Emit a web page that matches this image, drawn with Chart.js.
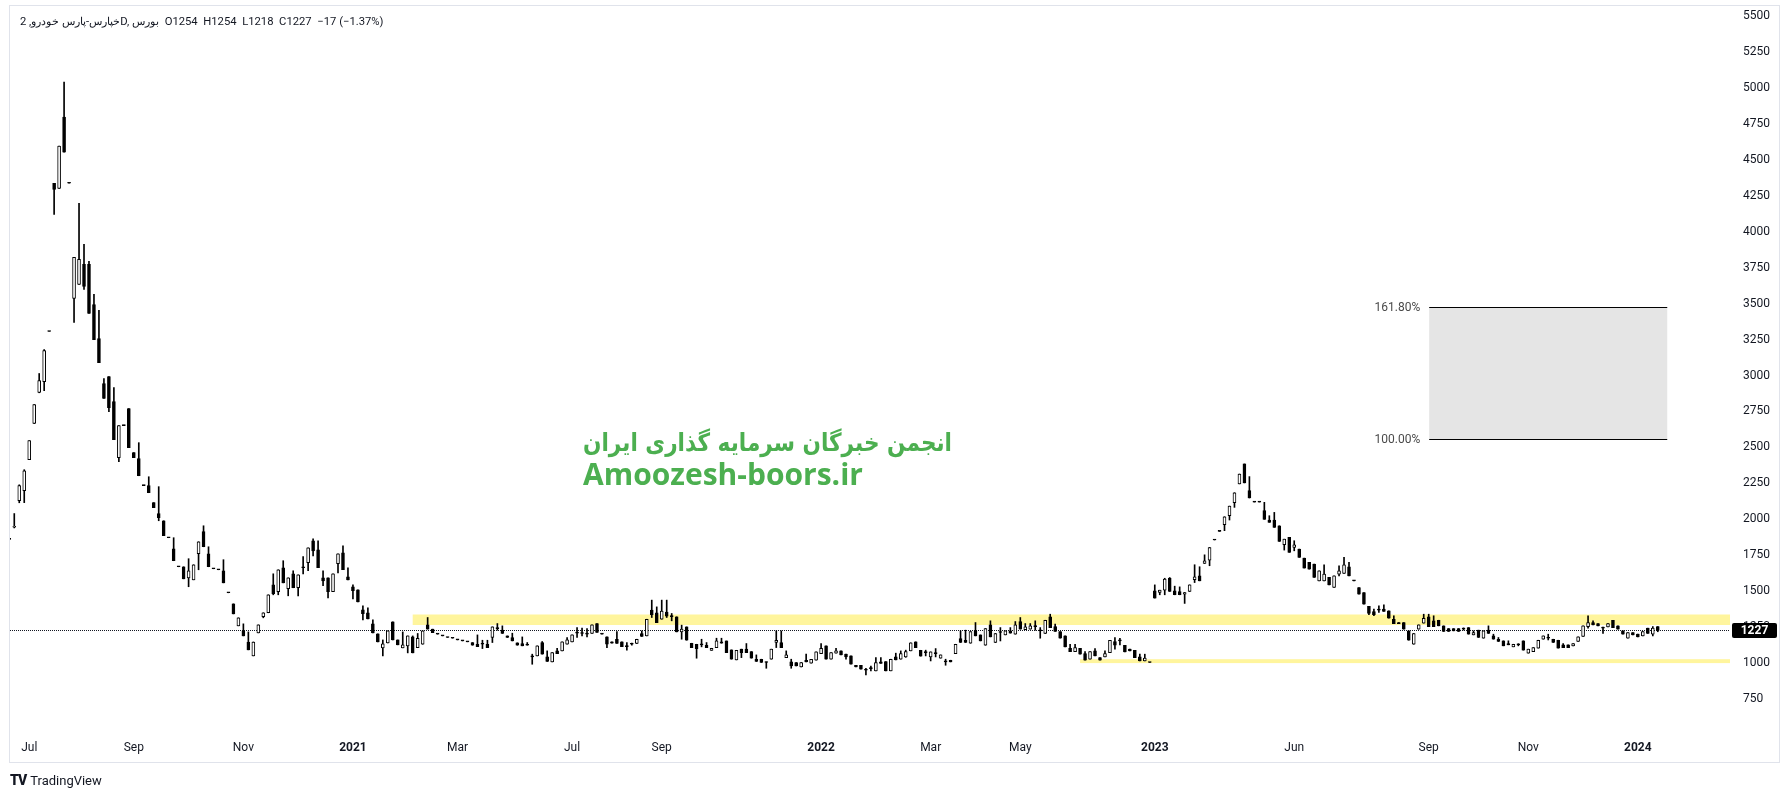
<!DOCTYPE html>
<html>
<head>
<meta charset="utf-8">
<script src="https://cdn.jsdelivr.net/npm/chart.js@4.4.1/dist/chart.umd.min.js"></script>
<style>
html, body { margin: 0; padding: 0; background: #ffffff; }
#wrap { position: relative; width: 1790px; height: 797px; }
#wrap canvas { position: absolute; left: 0; top: 0; }
.legend { position: absolute; left: 20px; top: 15px; font: 11.25px Roboto, sans-serif; color: #131722; white-space: pre; direction: ltr; }
.brand { position: absolute; left: 10px; top: 772px; font: 13px Roboto, sans-serif; color: #131722; white-space: nowrap; }
.brand b { font-weight: 900; font-size: 14px; letter-spacing: -1px; margin-right: 4px; }
</style>
</head>
<body>
<div id="wrap">
  <canvas id="chart" width="1790" height="797"></canvas>
  <div class="legend" dir="ltr">خپارس-پارس خودرو, 2D, بورس  O1254  H1254  L1218  C1227  −17 (−1.37%)</div>
  <div class="brand"><b>TV</b>TradingView</div>
</div>
<script>
// ===============================
// Candles (2D bars)
// ===============================

const opens = [
1860,1945,2129,2199,2415,2666,2882,2958,3306,4337,
4302,4797,4337,3536,3634,3773,3773,3494,3257,2944,
2993,2819,2429,2652,2770,2464,2422,2234,2234,2116,
2039,1990,1872,1795,1670,1670,1593,1579,1761,1914,
1760,1656,1649,1642,1489,1412,1259,1224,1147,1050,
1210,1322,1350,1545,1496,1663,1517,1621,1524,1663,
1698,1851,1788,1593,1593,1496,1691,1767,1600,1531,
1510,1370,1350,1273,1203,1106,1140,1287,1161,1106,
1120,1182,1108,1131,1266,1236,1201,1189,1178,1173,
1161,1154,1148,1143,1131,1131,1131,1178,1240,1229,
1189,1178,1141,1136,1124,1043,1050,1143,1043,1008,
1085,1085,1131,1148,1208,1206,1201,1206,1275,1201,
1182,1148,1166,1148,1115,1131,1136,1206,1189,1368,
1349,1305,1354,1331,1322,1217,1252,1138,1131,1127,
1124,1089,1108,1148,1154,1092,1022,1097,1097,1080,
1027,1027,1008,1027,1143,1143,1038,1008,1004,973,
1020,999,1020,1066,1120,1027,1069,1085,1062,1050,
985,985,950,962,946,1008,1011,946,1043,1027,
1043,1085,1148,1089,1073,1043,1066,1034,1008,1020,
1066,1171,1159,1138,1224,1196,1124,1266,1143,1213,
1196,1224,1201,1289,1233,1236,1254,1224,1206,1322,
1254,1220,1189,1103,1080,1103,1066,1027,1085,1038,
1043,1073,1150,1154,1124,1097,1089,1043,1015,1004,
1503,1491,1507,1589,1503,1498,1480,1498,1580,1607,
1693,1716,1856,1916,1962,2025,2116,2246,2385,2199,
2120,2120,2060,1995,1995,1955,1823,1874,1804,1793,
1730,1700,1688,1572,1572,1596,1526,1619,1623,1670,
1572,1526,1491,1394,1359,1368,1375,1363,1305,1282,
1282,1224,1131,1236,1278,1322,1294,1298,1259,1240,
1240,1240,1236,1247,1196,1229,1173,1229,1189,1166,
1155,1136,1113,1127,1155,1069,1080,1104,1166,1173,
1166,1159,1127,1127,1120,1150,1185,1254,1282,1275,
1243,1252,1298,1259,1224,1173,1213,1201,1189,1243,
1201,1254
];

const highs = [
1860,2040,2240,2345,2547,2798,3014,3180,3306,4337,
4595,5040,4337,3822,4198,3912,3794,3564,3453,2979,
2993,2916,2652,2652,2770,2464,2533,2234,2296,2116,
2227,1990,1872,1872,1670,1670,1726,1684,1844,1955,
1809,1656,1649,1719,1489,1412,1315,1273,1217,1147,
1266,1350,1475,1621,1649,1712,1593,1642,1614,1740,
1802,1865,1851,1642,1593,1621,1760,1816,1663,1545,
1510,1398,1384,1301,1203,1161,1224,1287,1161,1217,
1189,1189,1206,1224,1317,1236,1201,1189,1178,1173,
1161,1154,1148,1143,1196,1159,1159,1252,1275,1259,
1189,1208,1141,1182,1143,1062,1120,1150,1085,1073,
1103,1148,1178,1196,1247,1243,1240,1266,1275,1201,
1182,1148,1220,1148,1143,1140,1166,1224,1305,1438,
1391,1438,1438,1345,1322,1264,1252,1138,1131,1166,
1143,1103,1173,1173,1154,1092,1089,1097,1136,1080,
1057,1027,1008,1097,1224,1224,1085,1027,1004,1004,
1062,1027,1078,1136,1120,1073,1103,1085,1062,1050,
985,985,964,980,1038,1038,1011,1027,1069,1085,
1090,1141,1148,1089,1090,1078,1101,1057,1027,1020,
1131,1224,1229,1219,1282,1196,1240,1294,1206,1247,
1224,1247,1289,1317,1275,1275,1294,1247,1298,1340,
1271,1220,1189,1131,1131,1103,1080,1080,1101,1038,
1085,1159,1178,1173,1124,1097,1089,1062,1062,1004,
1544,1507,1590,1595,1535,1530,1491,1544,1684,1670,
1753,1804,1856,1916,2018,2092,2185,2315,2385,2297,
2120,2120,2118,2025,2048,1955,1862,1874,1851,1793,
1730,1700,1688,1642,1684,1596,1607,1677,1735,1700,
1572,1526,1491,1394,1375,1398,1405,1363,1329,1282,
1282,1224,1206,1266,1340,1340,1329,1298,1259,1240,
1240,1240,1245,1247,1224,1229,1224,1259,1201,1178,
1155,1155,1131,1135,1155,1097,1108,1159,1189,1201,
1166,1159,1136,1127,1136,1182,1259,1329,1294,1275,
1250,1275,1298,1259,1224,1213,1213,1201,1220,1243,
1254,1254
];

const lows = [
1860,1940,2115,2116,2415,2666,2880,2895,3306,4121,
4302,4553,4337,3369,3634,3599,3432,3250,3090,2840,
2749,2554,2401,2652,2498,2429,2303,2234,2185,2081,
1990,1886,1872,1712,1670,1586,1531,1579,1649,1809,
1670,1656,1649,1558,1489,1342,1259,1189,1092,1050,
1210,1315,1350,1475,1475,1558,1468,1524,1468,1621,
1642,1746,1663,1538,1454,1496,1628,1649,1579,1447,
1426,1301,1308,1210,1147,1050,1140,1161,1127,1106,
1071,1071,1108,1131,1236,1212,1201,1189,1178,1173,
1161,1154,1148,1124,1115,1101,1108,1143,1229,1206,
1178,1154,1124,1120,1124,992,1050,1062,1011,1008,
1066,1085,1131,1148,1178,1189,1182,1206,1213,1201,
1108,1138,1136,1115,1090,1125,1136,1185,1189,1317,
1282,1305,1317,1294,1217,1166,1159,1108,1034,1113,
1108,1089,1108,1138,1073,1027,1022,1038,1073,1034,
1011,1004,964,1027,1108,1108,1038,964,980,973,
1008,999,1020,1066,1027,1027,1069,1057,1027,992,
973,957,918,946,946,997,946,946,1022,1027,
1040,1085,1108,1048,1050,1015,1043,1034,985,1008,
1066,1143,1143,1138,1189,1154,1124,1182,1143,1154,
1196,1208,1201,1236,1233,1236,1229,1173,1206,1247,
1220,1173,1113,1080,1080,1062,1020,1027,1050,1020,
1043,1073,1097,1127,1078,1085,1038,1015,1015,1004,
1452,1475,1475,1498,1475,1475,1415,1498,1560,1572,
1693,1677,1856,1916,1921,1995,2083,2246,2253,2148,
2120,2120,2000,1979,1944,1846,1786,1770,1781,1735,
1661,1654,1596,1572,1572,1544,1526,1607,1623,1607,
1572,1480,1410,1336,1330,1352,1359,1312,1275,1275,
1236,1159,1131,1236,1278,1254,1254,1259,1220,1220,
1224,1220,1230,1201,1196,1178,1173,1206,1166,1150,
1120,1127,1113,1120,1090,1069,1080,1104,1166,1161,
1143,1104,1108,1108,1120,1150,1185,1243,1266,1259,
1206,1252,1247,1236,1201,1173,1196,1182,1189,1206,
1189,1218
];

const closes = [
1860,1950,2234,2338,2547,2798,2965,3174,3306,4295,
4595,4553,4337,3822,3808,3620,3432,3250,3090,2840,
2777,2554,2652,2652,2498,2429,2303,2234,2185,2081,
2011,1886,1872,1712,1670,1586,1642,1684,1844,1809,
1670,1656,1649,1558,1489,1342,1315,1189,1092,1147,
1266,1350,1475,1482,1649,1558,1593,1524,1614,1663,
1802,1781,1663,1572,1496,1621,1760,1649,1579,1503,
1426,1343,1308,1210,1147,1134,1224,1161,1127,1127,
1189,1071,1173,1224,1236,1212,1201,1189,1178,1173,
1161,1154,1148,1124,1115,1131,1108,1252,1240,1206,
1178,1154,1124,1120,1124,1043,1120,1062,1011,1073,
1066,1148,1161,1196,1208,1206,1201,1266,1213,1201,
1131,1138,1136,1115,1115,1131,1166,1185,1305,1336,
1282,1361,1326,1322,1217,1236,1159,1108,1101,1127,
1108,1103,1154,1138,1073,1027,1089,1073,1073,1034,
1011,1004,1004,1097,1159,1108,1057,980,980,1004,
1008,1027,1078,1103,1027,1073,1085,1057,1043,992,
973,957,950,962,1004,997,946,1027,1022,1066,
1080,1141,1108,1048,1073,1078,1066,1057,1008,1008,
1131,1143,1143,1219,1189,1154,1240,1182,1206,1213,
1224,1208,1266,1236,1252,1259,1254,1224,1298,1247,
1220,1173,1113,1080,1108,1062,1020,1080,1050,1020,
1066,1159,1124,1154,1078,1085,1038,1015,1034,1004,
1452,1507,1584,1498,1475,1475,1491,1544,1600,1572,
1711,1804,1856,1916,2018,2092,2185,2315,2253,2148,
2120,2120,2000,1979,1944,1846,1862,1770,1823,1735,
1661,1654,1596,1642,1619,1544,1607,1642,1684,1607,
1572,1480,1410,1345,1336,1368,1359,1312,1275,1275,
1236,1159,1206,1266,1312,1254,1254,1259,1220,1220,
1224,1220,1236,1201,1213,1178,1224,1206,1166,1150,
1120,1127,1131,1127,1090,1097,1108,1159,1189,1173,
1143,1104,1108,1108,1136,1182,1259,1282,1266,1259,
1243,1275,1247,1236,1201,1213,1196,1182,1220,1206,
1243,1227
];

// time axis: bar index where each label sits
const xTickIdx = [4, 25, 47, 69, 90, 113, 131, 163, 185, 203, 230, 258, 285, 305, 327];
const xTickLabels = ["Jul", "Sep", "Nov", "2021", "Mar", "Jul", "Sep", "2022", "Mar", "May", "2023", "Jun", "Sep", "Nov", "2024"];

// price axis
const yTicks = [750, 1000, 1250, 1500, 1750, 2000, 2250, 2500, 2750, 3000, 3250, 3500, 3750, 4000, 4250, 4500, 4750, 5000, 5250, 5500];

// drawings on the chart
const zoneFrom = [81, 215];
const zoneLow = [1265, 1000];
const zoneHigh = [1338, 1027];

const fibLabels = ["161.80%", "100.00%"];
const fibPrices = [3474, 2561];
const fibFrom = 285.1;
const fibTo = 332.9;

// ===============================

const lastClose = closes[closes.length - 1];

const candleIdx = closes.map((c, i) => i);

Chart.defaults.font.family = "Roboto";

const drawings = {

    id: "drawings",

    beforeDatasetsDraw(chart) {

        const { ctx, chartArea: a, scales: { x, y } } = chart;

        ctx.save();
        ctx.beginPath();
        ctx.rect(a.left, a.top, a.right - a.left, a.bottom - a.top);
        ctx.clip();

        // support / resistance zones
        ctx.fillStyle = "#fff59d";
        zoneFrom.forEach((f, i) => {
            const x0 = x.getPixelForValue(f);
            const y0 = y.getPixelForValue(zoneHigh[i]);
            const y1 = y.getPixelForValue(zoneLow[i]);
            ctx.fillRect(x0, y0, a.right - x0, y1 - y0);
        });

        // fib extension box
        const fx0 = x.getPixelForValue(fibFrom);
        const fx1 = x.getPixelForValue(fibTo);
        const fy0 = Math.round(y.getPixelForValue(fibPrices[0]));
        const fy1 = Math.round(y.getPixelForValue(fibPrices[1]));
        ctx.fillStyle = "#e5e5e5";
        ctx.fillRect(fx0, fy0, fx1 - fx0, fy1 - fy0);
        ctx.strokeStyle = "#000000";
        ctx.lineWidth = 1;
        ctx.beginPath();
        ctx.moveTo(fx0, fy0 + 0.5); ctx.lineTo(fx1, fy0 + 0.5);
        ctx.moveTo(fx0, fy1 + 0.5); ctx.lineTo(fx1, fy1 + 0.5);
        ctx.stroke();

        ctx.fillStyle = "#4a4a4a";
        ctx.font = "12px Roboto";
        ctx.textAlign = "right";
        ctx.textBaseline = "middle";
        ctx.fillText(fibLabels[0], fx0 - 9, fy0 + 1);
        ctx.fillText(fibLabels[1], fx0 - 9, fy1 + 1);

        // last price line
        const py = Math.round(y.getPixelForValue(lastClose)) + 0.5;
        ctx.strokeStyle = "#131722";
        ctx.setLineDash([1, 1]);
        ctx.beginPath();
        ctx.moveTo(a.left, py);
        ctx.lineTo(a.right, py);
        ctx.stroke();
        ctx.setLineDash([]);

        ctx.restore();

    },

    afterDraw(chart) {

        const { ctx, chartArea: a, scales: { y } } = chart;

        ctx.save();

        // watermark text (persian line squeezed to the width seen in the picture)
        ctx.fillStyle = "#4caf50";
        ctx.textBaseline = "alphabetic";
        ctx.direction = "rtl";
        ctx.textAlign = "right";
        ctx.font = "bold 25px 'DejaVu Sans'";
        const fa = "انجمن خبرگان سرمایه گذاری ایران";
        const w = ctx.measureText(fa).width;
        ctx.save();
        ctx.translate(952, 451);
        ctx.scale(369 / w, 1);
        ctx.fillText(fa, 0, 0);
        ctx.restore();

        ctx.direction = "ltr";
        ctx.textAlign = "left";
        ctx.font = "bold 30px 'Open Sans'";
        ctx.fillText("Amoozesh-boors.ir", 583, 485);

        // last price label
        const py = y.getPixelForValue(lastClose);
        ctx.fillStyle = "#000000";
        ctx.beginPath();
        ctx.roundRect(a.right + 2, Math.round(py) - 7, 45, 15, 2);
        ctx.fill();
        ctx.fillStyle = "#ffffff";
        ctx.font = "bold 12px Roboto";
        ctx.textAlign = "center";
        ctx.textBaseline = "middle";
        ctx.fillText(String(lastClose), a.right + 24.5, Math.round(py) + 1);

        // frame
        ctx.strokeStyle = "#e0e3eb";
        ctx.lineWidth = 1;
        ctx.strokeRect(9.5, 5.5, 1770, 757);

        ctx.restore();

    }

};

new Chart(document.getElementById("chart"), {

    type: "bar",

    data: {

        datasets: [

            {
                label: "wick",
                data: candleIdx.map(i => ({ x: i, y: [lows[i], highs[i]] })),
                backgroundColor: "#000000",
                barThickness: 1,
                grouped: false,
                order: 2
            },

            {
                label: "body",
                data: candleIdx.map(i => ({ x: i, y: [opens[i], closes[i]] })),
                backgroundColor: (c) => closes[c.dataIndex] > opens[c.dataIndex] ? "#ffffff" : "#000000",
                borderColor: "#000000",
                borderWidth: 1,
                borderSkipped: false,
                barThickness: 3,
                minBarLength: 1,
                grouped: false,
                order: 1
            }

        ]

    },

    options: {

        responsive: false,

        animation: false,

        layout: {
            padding: { left: 10, top: 8, right: 11, bottom: 35 }
        },

        plugins: {
            legend: { display: false },
            tooltip: { enabled: false }
        },

        scales: {

            x: {
                type: "linear",
                min: 0.14,
                max: 345.5,
                offset: false,
                grid: { display: false, drawTicks: false },
                border: { display: false },
                afterBuildTicks: (s) => { s.ticks = xTickIdx.map(v => ({ value: v })); },
                afterFit: (s) => { s.height = 25; s.paddingLeft = 0; s.paddingRight = 0; },
                ticks: {
                    autoSkip: false,
                    maxRotation: 0,
                    padding: 4,
                    color: "#131722",
                    font: (c) => ({
                        family: "Roboto",
                        size: 12,
                        weight: /^\d{4}$/.test(xTickLabels[c.index]) ? "bold" : "normal"
                    }),
                    callback: (v, i) => xTickLabels[i]
                }
            },

            y: {
                type: "linear",
                position: "right",
                min: 486,
                max: 5556,
                grid: { display: false, drawTicks: false },
                border: { display: false },
                afterBuildTicks: (s) => { s.ticks = yTicks.map(v => ({ value: v })); },
                afterFit: (s) => { s.width = 49; s.paddingTop = 0; s.paddingBottom = 0; },
                ticks: {
                    autoSkip: false,
                    padding: 13,
                    color: "#131722",
                    font: { size: 12 },
                    callback: (v) => String(v)
                }
            }

        }

    },

    plugins: [drawings]

});
</script>
</body>
</html>
